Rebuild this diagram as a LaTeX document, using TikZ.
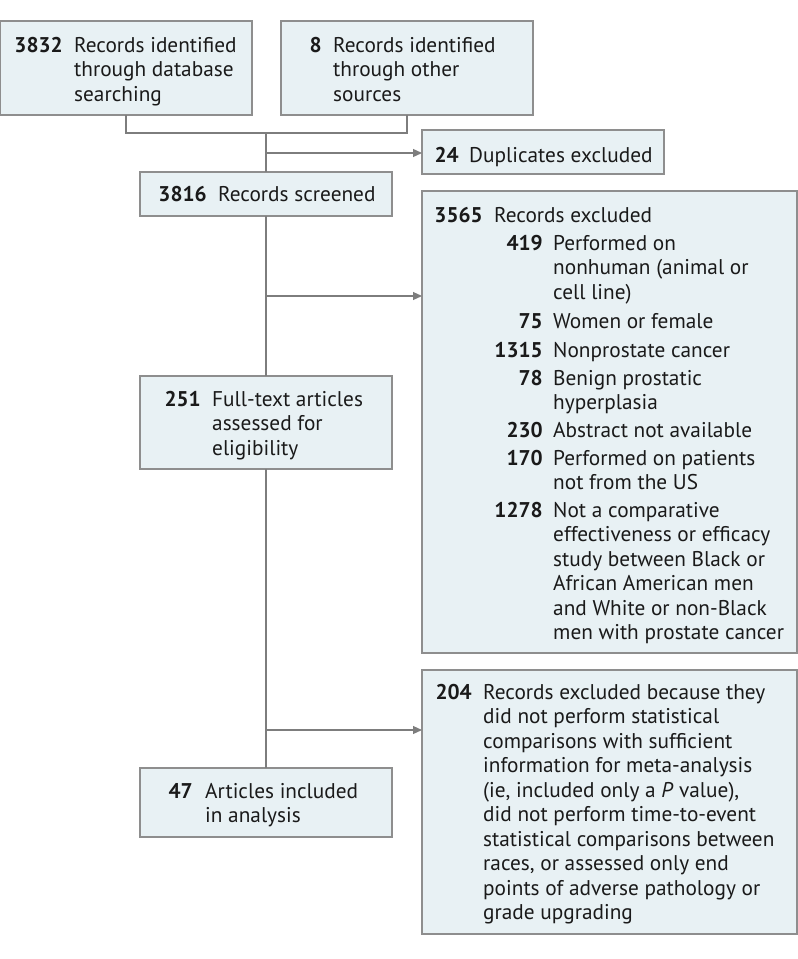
\documentclass[tikz,border=0pt]{standalone}
\usepackage{fontspec}
\setmainfont{PT Sans}
\usetikzlibrary{arrows.meta}
\definecolor{boxfill}{HTML}{E8F1F4}
\definecolor{boxline}{HTML}{8E8E8E}
\definecolor{conn}{HTML}{7D7D7D}
\definecolor{ink}{HTML}{1A1A1A}
\newcommand{\mylines}[1]{\begin{tabular}[t]{@{}l@{}}#1\end{tabular}}
\tikzset{
  box/.style={draw=boxline, fill=boxfill, line width=1.2bp, inner sep=0pt, outer sep=0pt},
  num/.style={anchor=base east, inner sep=0pt, font=\fontsize{21.3bp}{24.5bp}\selectfont\bfseries, text=ink},
  txt/.style={anchor=base west, inner sep=0pt, font=\fontsize{21.3bp}{24.5bp}\selectfont, text=ink},
  link/.style={draw=conn, line width=1.2bp},
  arr/.style={link, -{Triangle[length=9bp,width=8bp]}},
}
\begin{document}
\begin{tikzpicture}[x=1bp,y=-1bp]
\useasboundingbox (0,0) rectangle (798,959);
% boxes
\node[box, minimum width=252bp, minimum height=94bp] (b1) at (126,68) {};
\node[box, minimum width=252bp, minimum height=94bp] (b2) at (407,68) {};
\node[box, minimum width=242bp, minimum height=44bp] (b24) at (543,152) {};
\node[box, minimum width=252bp, minimum height=44bp] (b3816) at (266,194) {};
\node[box, minimum width=375bp, minimum height=462bp] (b3565) at (609.5,422) {};
\node[box, minimum width=252bp, minimum height=93bp] (b251) at (266,422.5) {};
\node[box, minimum width=375bp, minimum height=264bp] (b204) at (609.5,802) {};
\node[box, minimum width=252bp, minimum height=69bp] (b47) at (266,802.5) {};
% texts
\node[num] (n1) at (63,52) {3832};
\node[txt] (t1) at (74,52) {\mylines{Records identified\\through database\\searching}};
\node[num] (n2) at (322,52) {8};
\node[txt] (t2) at (333,52) {\mylines{Records identified\\through other\\sources}};
\node[num] (n24) at (459,162) {24};
\node[txt] (t24) at (469,162) {Duplicates excluded};
\node[num] (n3816) at (207,201) {3816};
\node[txt] (t3816) at (218,201) {Records screened};
\node[num] (n3565) at (483,222) {3565};
\node[txt] (t3565) at (494,222) {Records excluded};
\node[num] (s1n) at (543,250) {419};
\node[txt] (s1t) at (553,250) {\mylines{Performed on\\nonhuman (animal or\\cell line)}};
\node[num] (s2n) at (543,328) {75};
\node[txt] (s2t) at (553,328) {Women or female};
\node[num] (s3n) at (543,357) {1315};
\node[txt] (s3t) at (553,357) {Nonprostate cancer};
\node[num] (s4n) at (543,385) {78};
\node[txt] (s4t) at (553,385) {\mylines{Benign prostatic\\hyperplasia}};
\node[num] (s5n) at (543,437) {230};
\node[txt] (s5t) at (553,437) {Abstract not available};
\node[num] (s6n) at (543,465) {170};
\node[txt] (s6t) at (553,465) {\mylines{Performed on patients\\not from the US}};
\node[num] (s7n) at (543,517) {1278};
\node[txt] (s7t) at (553,517) {\mylines{Not a comparative\\effectiveness or efficacy\\study between Black or\\African American men\\and White or non-Black\\men with prostate cancer}};
\node[num] (n251) at (201,406) {251};
\node[txt] (t251) at (212,406) {\mylines{Full-text articles\\assessed for\\eligibility}};
\node[num] (n204) at (472,699) {204};
\node[txt] (t204) at (483,699) {\mylines{Records excluded because they\\did not perform statistical\\comparisons with sufficient\\information for meta-analysis\\(ie, included only a \textit{P} value),\\did not perform time-to-event\\statistical comparisons between\\races, or assessed only end\\points of adverse pathology or\\grade upgrading}};
\node[num] (n47) at (193,798) {47};
\node[txt] (t47) at (205,798) {\mylines{Articles included\\in analysis}};
% connectors
\coordinate (j) at (266,133);
\draw[link] (b1.south) |- (j) -| (b2.south);
\draw[link] (j) -- (b3816.north);
\coordinate (a1) at (266,153);
\draw[arr] (a1) -- (b24.west |- a1);
\draw[link] (b3816.south) -- (b251.north);
\coordinate (a2) at (266,296);
\draw[arr] (a2) -- (b3565.west |- a2);
\draw[link] (b251.south) -- (b47.north);
\coordinate (a3) at (266,730);
\draw[arr] (a3) -- (b204.west |- a3);
\end{tikzpicture}
\end{document}
